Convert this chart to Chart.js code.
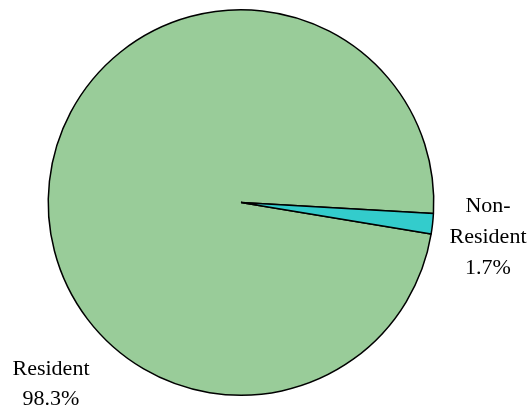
<!DOCTYPE html>
<html>
<head>
<meta charset="utf-8">
<script src="https://cdn.jsdelivr.net/npm/chart.js@4"></script>
<style>
  body { margin: 0; background: #fff; }
</style>
</head>
<body>
<canvas id="myChart" width="532" height="411"></canvas>
<script>
// Chart data
let categories = ["Resident", "Non-Resident"];
let shares = [98.3, 1.7];
let sliceColors = ["#99cc99", "#33cccc"];

// Draw outside labels (name lines + percent)
let outsideLabels = {
    id: "outsideLabels",
    afterDraw: function(chart) {
        let ctx = chart.ctx;
        ctx.save();
        ctx.font = "22px 'Liberation Serif', 'Times New Roman', serif";
        ctx.fillStyle = "#000";
        ctx.textAlign = "center";
        ctx.textBaseline = "alphabetic";
        // Resident label at lower left
        ctx.fillText(categories[0], 51, 375);
        ctx.fillText(shares[0].toFixed(1) + "%", 51, 405);
        // Non-Resident label on the right
        ctx.fillText("Non-", 488, 212);
        ctx.fillText("Resident", 488, 243);
        ctx.fillText(shares[1].toFixed(1) + "%", 488, 274);
        ctx.restore();
    }
};

let ctx = document.getElementById("myChart").getContext("2d");
let myChart = new Chart(ctx, {
    type: "pie",
    data: {
        labels: categories,
        datasets: [{
            data: shares,
            backgroundColor: sliceColors,
            borderColor: "#000",
            borderWidth: 1.5
        }]
    },
    options: {
        responsive: false,
        animation: false,
        rotation: 99.4,
        layout: {
            padding: { left: 47, right: 97, top: 9, bottom: 15 }
        },
        plugins: {
            legend: { display: false },
            tooltip: { enabled: false }
        }
    },
    plugins: [outsideLabels]
});
</script>
</body>
</html>
